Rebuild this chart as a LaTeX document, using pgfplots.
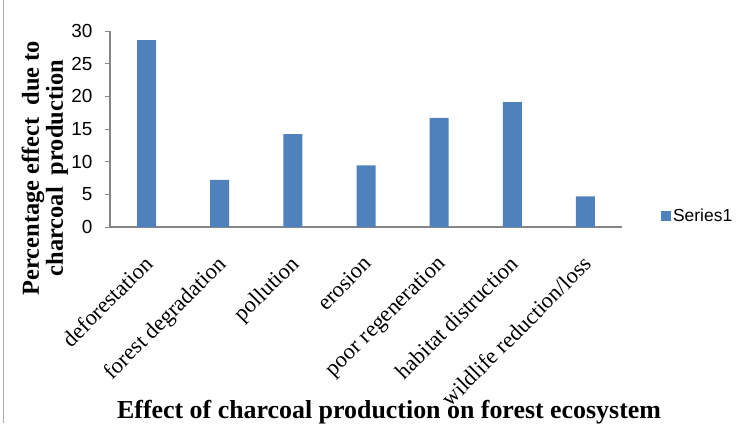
\documentclass[border=0pt]{standalone}
\usepackage{pgfplots}
\pgfplotsset{compat=1.18}
\usepackage{fontspec}
\setmainfont{Liberation Serif}
\newfontfamily\sansf{Liberation Sans}
\definecolor{barblue}{HTML}{4F81BD}
\definecolor{axgray}{HTML}{868686}
\begin{document}
\begin{tikzpicture}[x=1bp,y=1bp]
\draw[axgray!70, line width=0.8bp] (-107,-196) -- (-107,227);
\begin{axis}[
  at={(0,0)}, anchor=south west,
  width=512bp, height=196bp, scale only axis,
  xmin=-0.5, xmax=6.5, ymin=0, ymax=30,
  axis lines=left,
  axis line style={-, draw=axgray, line width=1.3bp},
  ybar, bar width=19bp,
  xtick=data,
  xticklabels={deforestation, forest degradation, pollution, erosion, poor regeneration, habitat distruction, wildlife reduction/loss},
  x tick label style={xshift=-15bp, yshift=2bp, rotate=45, anchor=north east, inner sep=1bp, xshift=-8bp, yshift=-24bp, font=\fontsize{22.5}{23}\selectfont},
  xtick style={draw=none},
  ytick={0,5,...,30},
  ytick style={draw=axgray, line width=1bp},
  tick align=outside,
  major tick length=5bp,
  y tick label style={font=\sansf\fontsize{19}{19}\selectfont, xshift=-9bp},
  /pgf/number format/assume math mode=true,
  xlabel={\bfseries Effect of charcoal production on forest ecosystem},
  xlabel style={font=\fontsize{26}{27}\selectfont, at={(axis description cs:0.545,-0.946)}, anchor=center},
  ylabel={\bfseries\begin{tabular}{c}Percentage effect\ \ due to\\[-3bp] charcoal\ \ production\end{tabular}},
  ylabel style={font=\fontsize{24.5}{27}\selectfont, at={(axis description cs:-0.126,0.30)}, anchor=center, rotate=0, inner sep=0pt},
  legend style={draw=none, fill=none, at={(axis description cs:1.076,0.056)}, anchor=west, font=\sansf\fontsize{17.5}{17.5}\selectfont, inner sep=0pt},
  legend image code/.code={\fill[barblue] (0bp,-5bp) rectangle (10bp,5bp);},
]
\addplot[fill=barblue, draw=none] coordinates {(0,28.6) (1,7.2) (2,14.2) (3,9.45) (4,16.7) (5,19.1) (6,4.7)};
\addlegendentry{Series1}
\end{axis}
\pgfresetboundingbox
\path[use as bounding box] (-110,-196) rectangle (643,227);
\end{tikzpicture}
\end{document}
